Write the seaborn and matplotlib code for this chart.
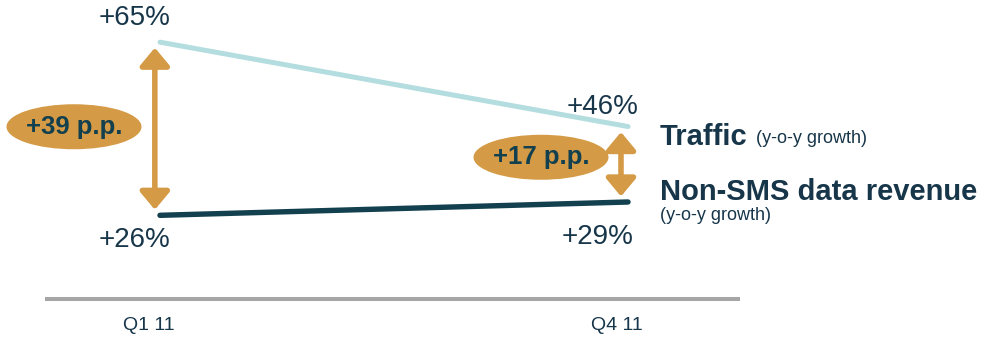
import numpy as np
import pandas as pd
import matplotlib
matplotlib.use("Agg")
import matplotlib.pyplot as plt
from matplotlib.patches import Ellipse
from matplotlib.transforms import Affine2D, ScaledTranslation
import seaborn as sns

# --- data -----------------------------------------------------------------
quarters = ["Q1 11", "Q4 11"]
traffic = [65, 46]          # traffic, y-o-y growth (%)
non_sms = [26, 29]          # non-SMS data revenue, y-o-y growth (%)
series_names = ["Traffic", "Non-SMS data revenue"]
sub_label = "(y-o-y growth)"

# --- style ----------------------------------------------------------------
sns.set_style("white")
plt.rcParams["font.family"] = ["Liberation Sans", "DejaVu Sans"]

TEXT = "#17364a"
LIGHT = "#b4dde0"
DARK = "#12404f"
GOLD = "#d49a45"
AXIS_GREY = "#a6a6a6"

W, H, DPI = 982, 338, 100
fig = plt.figure(figsize=(W / DPI, H / DPI), dpi=DPI)
fig.patch.set_facecolor("white")

# axes spans from the grey baseline up to the top edge
left_px, right_px, base_px = 45, 740, 299
ax = fig.add_axes([left_px / W, (H - base_px) / H, (right_px - left_px) / W, base_px / H])
ax.set_facecolor("none")

pos = list(range(len(quarters)))
df = pd.DataFrame({
    "pos": pos * 2,
    "value": traffic + non_sms,
    "series": [series_names[0]] * len(pos) + [series_names[1]] * len(pos),
})

sns.lineplot(data=df[df.series == series_names[0]], x="pos", y="value",
             color=LIGHT, linewidth=3.6, ax=ax, legend=False,
             solid_capstyle="round")
sns.lineplot(data=df[df.series == series_names[1]], x="pos", y="value",
             color=DARK, linewidth=3.9, ax=ax, legend=False,
             solid_capstyle="round")

ax.set_xlim(-0.2457, 1.2393)
ax.set_ylim(7.15, 74.5)
ax.set_xlabel("")
ax.set_ylabel("")
ax.set_yticks([])

# grey baseline as the only visible spine
for s in ["top", "left", "right"]:
    ax.spines[s].set_visible(False)
ax.spines["bottom"].set_color(AXIS_GREY)
ax.spines["bottom"].set_linewidth(2.9)
ax.spines["bottom"].set_capstyle("butt")

ax.set_xticks(pos, quarters)
ax.tick_params(axis="x", length=0, pad=13, labelsize=14, labelcolor=TEXT)
shift = ScaledTranslation(-11 / DPI, 0, fig.dpi_scale_trans)
for lab in ax.get_xticklabels():
    lab.set_transform(lab.get_transform() + shift)

# --- value labels ---------------------------------------------------------
def value_label(x, v, dx, dy):
    ax.annotate(f"+{v}%", xy=(x, v), xytext=(dx, dy), textcoords="offset pixels",
                ha="center", va="center", fontsize=20, color=TEXT,
                annotation_clip=False)

value_label(pos[0], traffic[0], -25, 24)
value_label(pos[0], non_sms[0], -25, -25)
value_label(pos[1], traffic[1], -25, 20)
value_label(pos[1], non_sms[1], -30, -35)

# --- gap arrows and bubbles -----------------------------------------------
arrow_dx = [-0.011, -0.015]
bubble_dx = [-86, -87]
bubble_dy = [2, 7]
for i in pos:
    top, bot = traffic[i], non_sms[i]
    ax.annotate("", xy=(i + arrow_dx[i], top), xytext=(i + arrow_dx[i], bot),
                arrowprops=dict(arrowstyle="<|-|>,head_length=0.6,head_width=0.5",
                                color=GOLD, lw=4.0, mutation_scale=18,
                                shrinkA=4, shrinkB=4),
                annotation_clip=False)
    mid = (top + bot) / 2
    place = (Affine2D().scale(135 / 2, 45 / 2).translate(bubble_dx[i], bubble_dy[i])
             + ScaledTranslation(i, mid, ax.transData))
    ax.add_patch(Ellipse((0, 0), 2, 2, transform=place, facecolor=GOLD,
                         edgecolor="none", clip_on=False, zorder=3))
    ax.annotate(f"+{top - bot} p.p.", xy=(i, mid),
                xytext=(bubble_dx[i], bubble_dy[i]), textcoords="offset pixels",
                ha="center", va="center", fontsize=18.5, fontweight="bold",
                color=DARK, zorder=4, annotation_clip=False)

# --- series names at the right end ----------------------------------------
last = pos[-1]
t1 = ax.annotate(series_names[0], xy=(last, traffic[-1]), xytext=(32, -10),
                 textcoords="offset pixels", ha="left", va="center",
                 fontsize=21, fontweight="bold", color=TEXT, annotation_clip=False)
ax.annotate(sub_label, xy=(1, 0), xycoords=t1, xytext=(8, 4),
            textcoords="offset pixels", ha="left", va="bottom",
            fontsize=13, color=TEXT, annotation_clip=False)
t2 = ax.annotate(series_names[1], xy=(last, non_sms[-1]), xytext=(32, 10),
                 textcoords="offset pixels", ha="left", va="center",
                 fontsize=21, fontweight="bold", color=TEXT, annotation_clip=False)
ax.annotate(sub_label, xy=(0, 0), xycoords=t2, xytext=(0, -1),
            textcoords="offset pixels", ha="left", va="top",
            fontsize=13, color=TEXT, annotation_clip=False)

fig.savefig("out.png", dpi=DPI, facecolor="white")
